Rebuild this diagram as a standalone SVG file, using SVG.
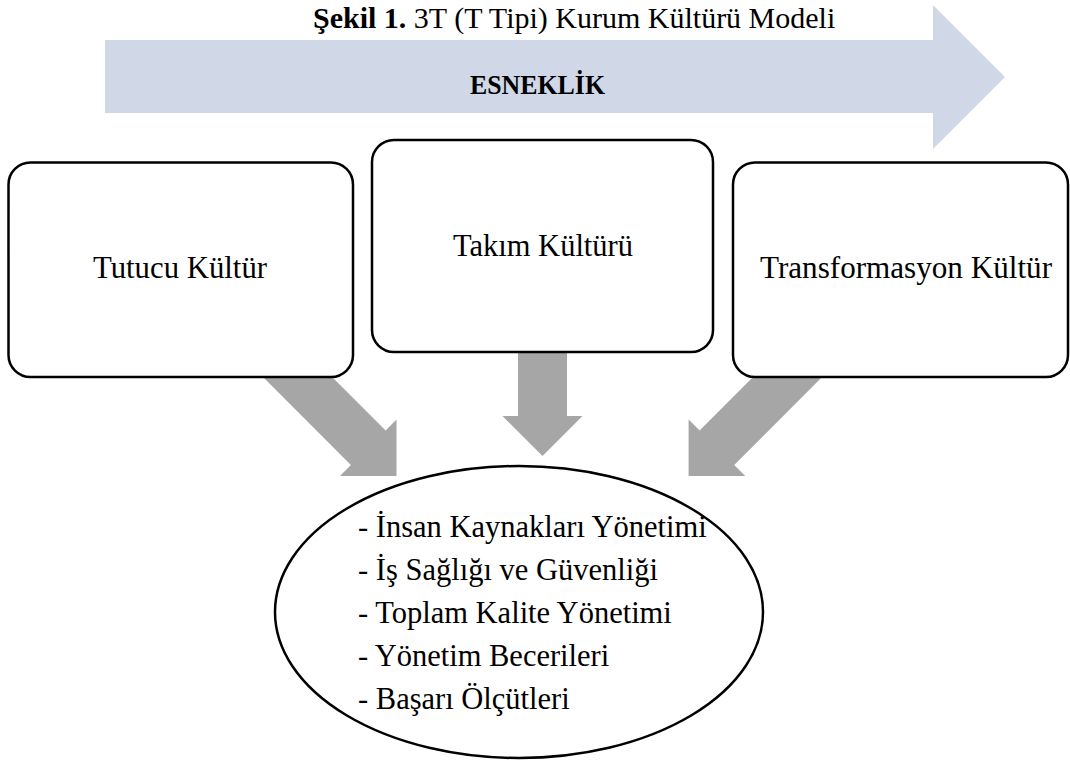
<svg xmlns="http://www.w3.org/2000/svg" width="1070" height="765" viewBox="0 0 1070 765">
<style>
  text { font-family: "Liberation Serif", "DejaVu Serif", serif; fill: #000; }
  .box { fill: #fff; stroke: #000; stroke-width: 2.5; }
  .gray { fill: #A6A6A6; }
  .lbl { font-size: 31px; text-anchor: middle; }
  .li { font-size: 30.5px; }
</style>
<rect width="1070" height="765" fill="#fff"/>
<g id="title">
  <text x="313" y="28" font-size="30"><tspan font-weight="bold">Şekil 1.</tspan> 3T (T Tipi) Kurum Kültürü Modeli</text>
</g>
<g id="esneklik">
  <polygon points="105,40 933,40 933,5 1005,77 933,149 933,113 105,113" fill="#D0D7E6"/>
  <text x="470" y="94" font-size="28" font-weight="bold" textLength="135" lengthAdjust="spacingAndGlyphs">ESNEKLİK</text>
</g>
<g id="connectors">
  <polygon class="gray" points="293.6,338.5 385.6,430.4 396.5,419.5 396.5,476 340,476 350.9,465.1 259,373.1"/>
  <polygon class="gray" points="518,330 567,330 567,416 582.5,416 542.5,456 502.5,416 518,416"/>
  <polygon class="gray" points="791.5,338.5 699.6,430.4 688.6,419.5 688.6,476 745.2,476 734.2,465.1 826.1,373.1"/>
</g>
<g id="tutucu">
  <rect class="box" x="8.5" y="162.5" width="344.5" height="214.5" rx="22" ry="22"/>
  <text class="lbl" x="180" y="278" textLength="174" lengthAdjust="spacingAndGlyphs">Tutucu Kültür</text>
</g>
<g id="takim">
  <rect class="box" x="372" y="140" width="341" height="212" rx="22" ry="22"/>
  <text class="lbl" x="543" y="256" textLength="180" lengthAdjust="spacingAndGlyphs">Takım Kültürü</text>
</g>
<g id="transformasyon">
  <rect class="box" x="733" y="162.5" width="335" height="214.5" rx="22" ry="22"/>
  <text class="lbl" x="906" y="278" textLength="292" lengthAdjust="spacingAndGlyphs">Transformasyon Kültür</text>
</g>
<g id="alanlar">
  <ellipse cx="519" cy="612" rx="244" ry="146" fill="#fff" stroke="#000" stroke-width="2.5"/>
  <text class="li" x="358" y="537">- İnsan Kaynakları Yönetimi</text>
  <text class="li" x="358" y="580">- İş Sağlığı ve Güvenliği</text>
  <text class="li" x="358" y="623">- Toplam Kalite Yönetimi</text>
  <text class="li" x="358" y="666">- Yönetim Becerileri</text>
  <text class="li" x="358" y="709">- Başarı Ölçütleri</text>
</g>
</svg>
